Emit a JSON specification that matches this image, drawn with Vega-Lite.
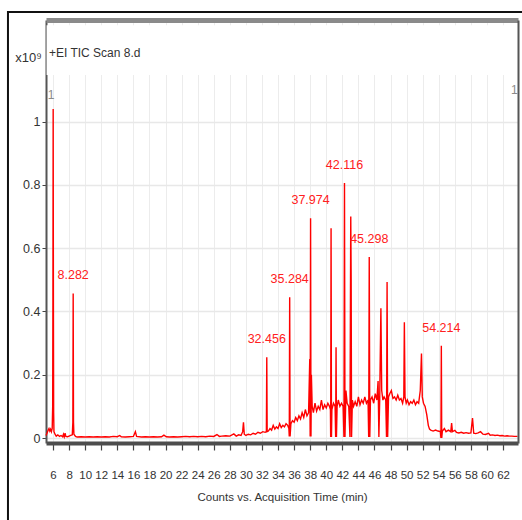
{
  "$schema": "https://vega.github.io/schema/vega-lite/v6.json",
  "width": 472,
  "height": 423,
  "autosize": "none",
  "padding": {"left": 46, "top": 20, "right": 4, "bottom": 77},
  "background": "white",
  "config": {
    "view": {"stroke": null},
    "font": "Liberation Sans, Arial, sans-serif"
  },
  "datasets": {
    "trace": [
      {"t":5.13,"v":0.008},{"t":5.25,"v":0.015},{"t":5.4,"v":0.025},{"t":5.5,"v":0.03},{"t":5.6,"v":0.022},{"t":5.7,"v":0.028},{"t":5.8,"v":0.02},{"t":5.9,"v":0.03},{"t":5.96,"v":0.1},{"t":5.99,"v":0.45},{"t":6.02,"v":1.04},{"t":6.05,"v":0.42},{"t":6.08,"v":0.08},{"t":6.12,"v":0.02},{"t":6.25,"v":0.012},{"t":6.4,"v":0.006},{"t":6.6,"v":0.01},{"t":6.8,"v":0.005},{"t":7.0,"v":0.008},{"t":7.2,"v":0.004},{"t":7.3,"v":0.012},{"t":7.4,"v":0.004},{"t":7.5,"v":0.015},{"t":7.6,"v":0.005},{"t":7.8,"v":0.004},{"t":8.0,"v":0.006},{"t":8.2,"v":0.008},{"t":8.4,"v":0.01},{"t":8.47,"v":0.05},{"t":8.51,"v":0.457},{"t":8.55,"v":0.05},{"t":8.6,"v":0.012},{"t":8.8,"v":0.005},{"t":9.0,"v":0.003},{"t":9.5,"v":0.004},{"t":10,"v":0.003},{"t":10.5,"v":0.004},{"t":11,"v":0.003},{"t":11.5,"v":0.004},{"t":12,"v":0.003},{"t":12.5,"v":0.004},{"t":13,"v":0.003},{"t":13.5,"v":0.005},{"t":14,"v":0.004},{"t":14.3,"v":0.008},{"t":14.5,"v":0.004},{"t":15,"v":0.003},{"t":15.5,"v":0.004},{"t":16,"v":0.005},{"t":16.25,"v":0.02},{"t":16.4,"v":0.005},{"t":17,"v":0.003},{"t":17.5,"v":0.004},{"t":18,"v":0.003},{"t":18.5,"v":0.004},{"t":19,"v":0.003},{"t":19.5,"v":0.004},{"t":19.8,"v":0.009},{"t":20.1,"v":0.004},{"t":20.5,"v":0.003},{"t":21,"v":0.004},{"t":21.5,"v":0.003},{"t":22,"v":0.004},{"t":22.5,"v":0.005},{"t":23,"v":0.004},{"t":23.5,"v":0.005},{"t":24,"v":0.004},{"t":24.5,"v":0.005},{"t":25,"v":0.004},{"t":25.5,"v":0.006},{"t":26,"v":0.005},{"t":26.4,"v":0.011},{"t":26.7,"v":0.005},{"t":27,"v":0.006},{"t":27.5,"v":0.007},{"t":28,"v":0.006},{"t":28.5,"v":0.013},{"t":28.8,"v":0.006},{"t":29.1,"v":0.01},{"t":29.4,"v":0.008},{"t":29.6,"v":0.02},{"t":29.7,"v":0.05},{"t":29.8,"v":0.012},{"t":30.0,"v":0.008},{"t":30.3,"v":0.012},{"t":30.6,"v":0.01},{"t":30.9,"v":0.015},{"t":31.2,"v":0.012},{"t":31.5,"v":0.018},{"t":31.8,"v":0.015},{"t":32.1,"v":0.02},{"t":32.4,"v":0.018},{"t":32.55,"v":0.02},{"t":32.6,"v":0.255},{"t":32.65,"v":0.02},{"t":32.8,"v":0.022},{"t":33.0,"v":0.03},{"t":33.2,"v":0.025},{"t":33.4,"v":0.04},{"t":33.6,"v":0.028},{"t":33.8,"v":0.035},{"t":34.0,"v":0.03},{"t":34.2,"v":0.045},{"t":34.4,"v":0.033},{"t":34.6,"v":0.04},{"t":34.8,"v":0.035},{"t":35.0,"v":0.045},{"t":35.2,"v":0.04},{"t":35.35,"v":0.03},{"t":35.4,"v":0.005},{"t":35.45,"v":0.445},{"t":35.5,"v":0.005},{"t":35.6,"v":0.045},{"t":35.8,"v":0.055},{"t":36.0,"v":0.05},{"t":36.2,"v":0.065},{"t":36.4,"v":0.055},{"t":36.6,"v":0.07},{"t":36.8,"v":0.06},{"t":37.0,"v":0.08},{"t":37.2,"v":0.065},{"t":37.4,"v":0.09},{"t":37.6,"v":0.07},{"t":37.8,"v":0.08},{"t":37.95,"v":0.25},{"t":38.0,"v":0.005},{"t":38.05,"v":0.695},{"t":38.1,"v":0.005},{"t":38.15,"v":0.2},{"t":38.25,"v":0.1},{"t":38.4,"v":0.08},{"t":38.6,"v":0.11},{"t":38.8,"v":0.085},{"t":39.0,"v":0.1},{"t":39.2,"v":0.09},{"t":39.4,"v":0.12},{"t":39.6,"v":0.09},{"t":39.8,"v":0.105},{"t":40.0,"v":0.095},{"t":40.2,"v":0.11},{"t":40.4,"v":0.1},{"t":40.52,"v":0.09},{"t":40.55,"v":0.003},{"t":40.6,"v":0.663},{"t":40.65,"v":0.003},{"t":40.7,"v":0.09},{"t":40.9,"v":0.11},{"t":41.1,"v":0.1},{"t":41.17,"v":0.003},{"t":41.22,"v":0.287},{"t":41.27,"v":0.003},{"t":41.35,"v":0.1},{"t":41.5,"v":0.12},{"t":41.7,"v":0.1},{"t":41.9,"v":0.11},{"t":42.1,"v":0.1},{"t":42.2,"v":0.003},{"t":42.27,"v":0.806},{"t":42.33,"v":0.003},{"t":42.45,"v":0.15},{"t":42.6,"v":0.11},{"t":42.8,"v":0.1},{"t":42.95,"v":0.003},{"t":43.05,"v":0.7},{"t":43.1,"v":0.5},{"t":43.15,"v":0.003},{"t":43.25,"v":0.12},{"t":43.4,"v":0.1},{"t":43.6,"v":0.115},{"t":43.8,"v":0.1},{"t":44.0,"v":0.13},{"t":44.2,"v":0.105},{"t":44.4,"v":0.12},{"t":44.6,"v":0.11},{"t":44.8,"v":0.13},{"t":45.0,"v":0.11},{"t":45.2,"v":0.12},{"t":45.28,"v":0.003},{"t":45.35,"v":0.572},{"t":45.42,"v":0.003},{"t":45.5,"v":0.12},{"t":45.7,"v":0.13},{"t":45.9,"v":0.11},{"t":46.1,"v":0.14},{"t":46.3,"v":0.12},{"t":46.45,"v":0.18},{"t":46.55,"v":0.003},{"t":46.65,"v":0.12},{"t":46.8,"v":0.41},{"t":46.9,"v":0.15},{"t":47.05,"v":0.12},{"t":47.2,"v":0.13},{"t":47.4,"v":0.12},{"t":47.5,"v":0.003},{"t":47.57,"v":0.493},{"t":47.64,"v":0.003},{"t":47.75,"v":0.13},{"t":47.9,"v":0.14},{"t":48.1,"v":0.15},{"t":48.3,"v":0.125},{"t":48.5,"v":0.13},{"t":48.7,"v":0.12},{"t":48.9,"v":0.135},{"t":49.1,"v":0.12},{"t":49.3,"v":0.125},{"t":49.5,"v":0.11},{"t":49.65,"v":0.13},{"t":49.72,"v":0.366},{"t":49.8,"v":0.13},{"t":49.95,"v":0.11},{"t":50.1,"v":0.12},{"t":50.3,"v":0.105},{"t":50.5,"v":0.115},{"t":50.7,"v":0.11},{"t":50.9,"v":0.12},{"t":51.1,"v":0.105},{"t":51.3,"v":0.115},{"t":51.5,"v":0.11},{"t":51.7,"v":0.15},{"t":51.85,"v":0.267},{"t":51.95,"v":0.13},{"t":52.1,"v":0.11},{"t":52.3,"v":0.1},{"t":52.5,"v":0.075},{"t":52.7,"v":0.04},{"t":52.85,"v":0.028},{"t":53.0,"v":0.025},{"t":53.3,"v":0.022},{"t":53.6,"v":0.025},{"t":53.9,"v":0.022},{"t":54.2,"v":0.02},{"t":54.27,"v":0.0},{"t":54.32,"v":0.292},{"t":54.37,"v":0.0},{"t":54.45,"v":0.022},{"t":54.7,"v":0.03},{"t":54.9,"v":0.02},{"t":55.2,"v":0.025},{"t":55.5,"v":0.02},{"t":55.6,"v":0.047},{"t":55.7,"v":0.02},{"t":56.0,"v":0.024},{"t":56.2,"v":0.018},{"t":56.5,"v":0.016},{"t":56.8,"v":0.018},{"t":57.1,"v":0.015},{"t":57.4,"v":0.017},{"t":57.7,"v":0.015},{"t":58.0,"v":0.016},{"t":58.2,"v":0.063},{"t":58.35,"v":0.015},{"t":58.6,"v":0.014},{"t":58.9,"v":0.016},{"t":59.2,"v":0.02},{"t":59.5,"v":0.012},{"t":59.8,"v":0.011},{"t":60.2,"v":0.015},{"t":60.4,"v":0.009},{"t":60.7,"v":0.01},{"t":61.0,"v":0.008},{"t":61.3,"v":0.009},{"t":61.6,"v":0.007},{"t":61.9,"v":0.008},{"t":62.2,"v":0.006},{"t":62.5,"v":0.007},{"t":62.8,"v":0.006},{"t":63.1,"v":0.006},{"t":63.4,"v":0.005},{"t":63.8,"v":0.005}
    ],
    "peaks": [
      {"t":8.51,"v":0.457,"label":"8.282"},
      {"t":32.6,"v":0.255,"label":"32.456"},
      {"t":35.45,"v":0.445,"label":"35.284"},
      {"t":38.05,"v":0.695,"label":"37.974"},
      {"t":42.27,"v":0.806,"label":"42.116"},
      {"t":45.35,"v":0.572,"label":"45.298"},
      {"t":54.32,"v":0.292,"label":"54.214"}
    ],
    "markers": [
      {"t":5.75,"v":1.085,"label":"1"},
      {"t":63.4,"v":1.1,"label":"1"}
    ],
    "header": [
      {"t":5.5,"v":1.217,"label":"+EI TIC Scan 8.d"}
    ]
  },
  "resolve": {"axis": {"x": "independent", "y": "independent"}},
  "layer": [
    {
      "data": {"values": [{"x0": 5.2, "x1": 63.75, "y0": 1.148, "y1": 1.305}]},
      "mark": {"type": "rect", "fill": "white", "stroke": null},
      "encoding": {
        "x": {"field": "x0", "type": "quantitative", "scale": {"domain": [5.128, 63.86], "nice": false, "zero": false},
              "axis": {"orient": "top", "labels": false, "ticks": false, "grid": false, "title": null, "domainColor": "#8a8a8a", "domainWidth": 5, "zindex": 1}},
        "x2": {"field": "x1"},
        "y": {"field": "y0", "type": "quantitative", "scale": {"domain": [-0.0158, 1.3215], "nice": false, "zero": false},
              "axis": {"orient": "right", "labels": false, "ticks": false, "grid": false, "title": null, "domainColor": "#555555", "domainWidth": 2, "zindex": 1}},
        "y2": {"field": "y1"}
      }
    },
    {
      "data": {"name": "trace"},
      "mark": {"type": "line", "color": "#ff0000", "strokeWidth": 1.4, "interpolate": "linear"},
      "encoding": {
        "x": {"field": "t", "type": "quantitative", "scale": {"domain": [5.128, 63.86], "nice": false, "zero": false},
              "axis": {"orient": "bottom", "values": [6,8,10,12,14,16,18,20,22,24,26,28,30,32,34,36,38,40,42,44,46,48,50,52,54,56,58,60,62],
                       "grid": true, "gridColor": "#ececec", "gridWidth": 1, "domainColor": "#4d4d4d", "domainWidth": 4,
                       "tickColor": "#444444", "tickSize": 7, "tickWidth": 1.2, "labelFontSize": 11.5, "labelColor": "#333333",
                       "labelPadding": 25, "labelBaseline": "middle", "labelFlush": false, "labelOverlap": false,
                       "title": "Counts vs. Acquisition Time (min)", "titleFontSize": 11.5, "titleFontWeight": "normal", "titleColor": "#333333",
                       "titleY": 54, "titleBaseline": "middle"}},
        "y": {"field": "v", "type": "quantitative", "scale": {"domain": [-0.0158, 1.3215], "nice": false, "zero": false},
              "axis": {"orient": "left", "values": [0,0.2,0.4,0.6,0.8,1], "format": "~g", "grid": true, "gridColor": "#e8e8e8", "gridWidth": 1.5,
                       "domainColor": "#555555", "domainWidth": 2, "tickColor": "#444444", "tickSize": 4, "labelFontSize": 12.5,
                       "labelColor": "#333333", "labelPadding": 2, "labelFlush": false,
                       "title": "x10⁹", "titleAngle": 0, "titleX": -18, "titleY": 37, "titleAlign": "center", "titleBaseline": "middle",
                       "titleFontSize": 13, "titleFontWeight": "normal", "titleColor": "#333333"}}
      }
    },
    {
      "data": {"name": "peaks"},
      "mark": {"type": "text", "color": "#ff2020", "fontSize": 12.5, "dy": -18, "baseline": "middle", "align": "center"},
      "encoding": {
        "x": {"field": "t", "type": "quantitative", "axis": null},
        "y": {"field": "v", "type": "quantitative", "axis": null},
        "text": {"field": "label"}
      }
    },
    {
      "data": {"name": "markers"},
      "mark": {"type": "text", "color": "#8a8a8a", "fontSize": 12, "baseline": "middle", "align": "center"},
      "encoding": {
        "x": {"field": "t", "type": "quantitative", "axis": null},
        "y": {"field": "v", "type": "quantitative", "axis": null},
        "text": {"field": "label"}
      }
    },
    {
      "data": {"name": "header"},
      "mark": {"type": "text", "color": "#333333", "fontSize": 12, "baseline": "middle", "align": "left"},
      "encoding": {
        "x": {"field": "t", "type": "quantitative", "axis": null},
        "y": {"field": "v", "type": "quantitative", "axis": null},
        "text": {"field": "label"}
      }
    },
    {
      "data": {"values": [{"x0": 0.396, "x1": 65.2, "y0": -0.3, "y1": 1.3468}]},
      "mark": {"type": "rect", "fill": null, "stroke": "#111111", "strokeWidth": 2},
      "encoding": {
        "x": {"field": "x0", "type": "quantitative", "axis": null},
        "x2": {"field": "x1"},
        "y": {"field": "y0", "type": "quantitative", "axis": null},
        "y2": {"field": "y1"}
      }
    }
  ]
}
